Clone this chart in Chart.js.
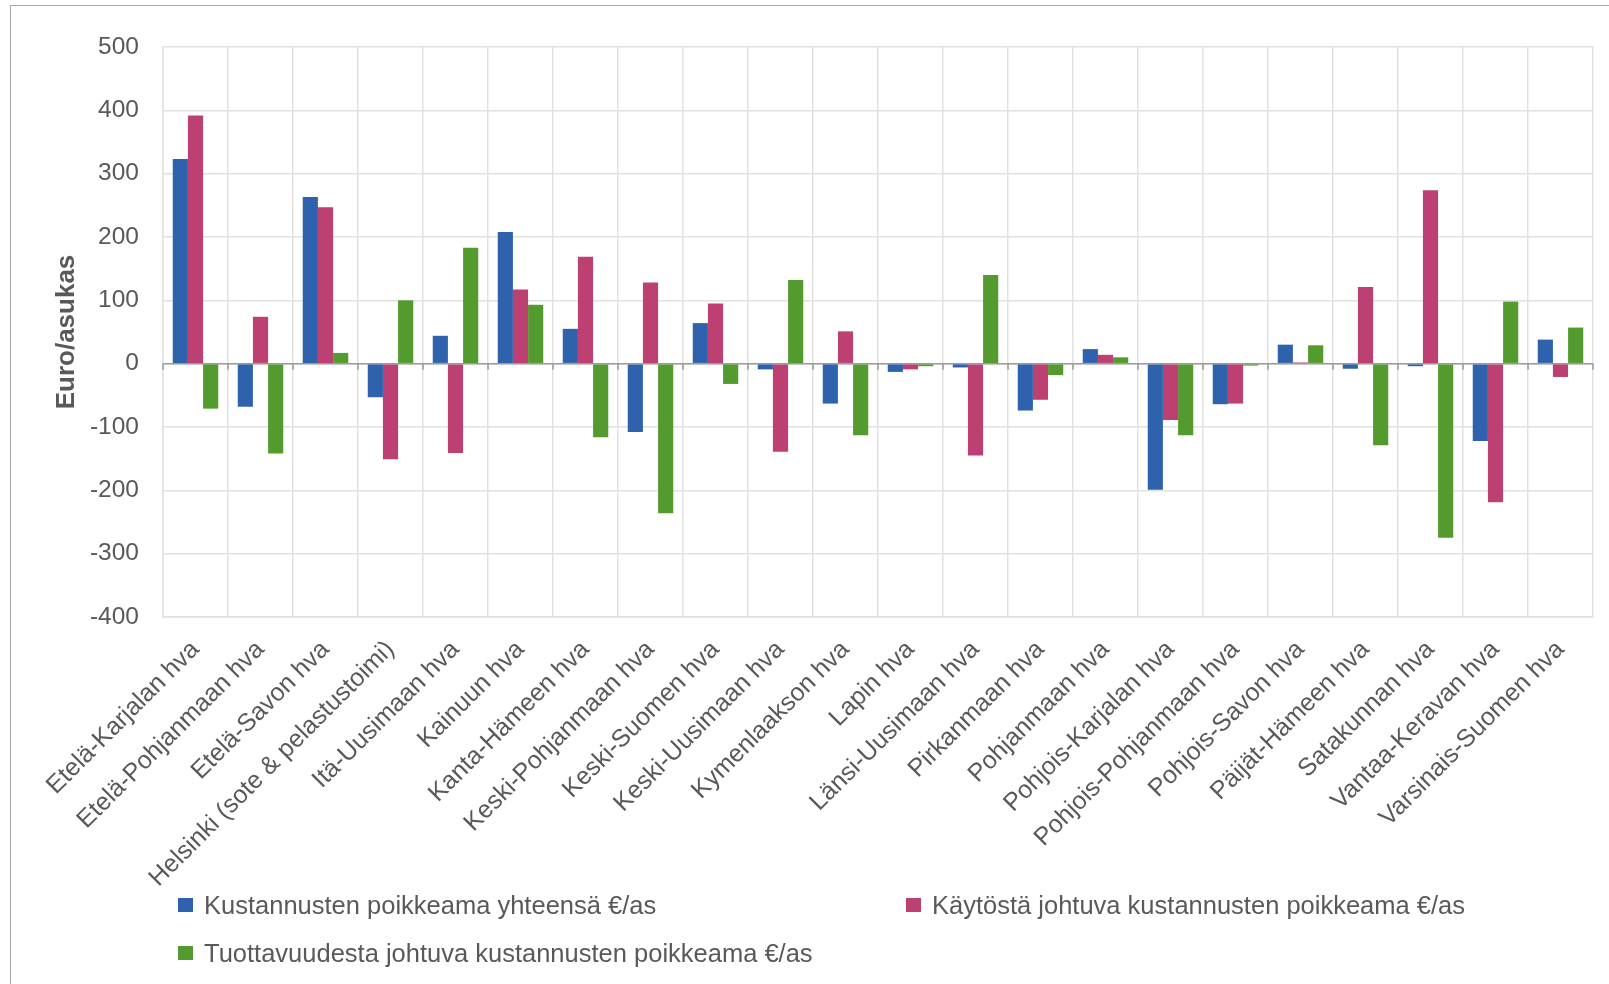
<!DOCTYPE html>
<html>
<head>
<meta charset="utf-8">
<script src="https://cdn.jsdelivr.net/npm/chart.js@4.4.1/dist/chart.umd.min.js"></script>
<style>
  html, body { margin: 0; padding: 0; background: #ffffff; overflow: hidden; }
  #wrap { position: relative; width: 1609px; height: 984px; }
  #frame { position: absolute; left: 10px; top: 5px; width: 1700px; height: 1200px;
           border-left: 1.5px solid #a9a9a9; border-top: 1.5px solid #a9a9a9; box-sizing: border-box; }
  #c { position: absolute; left: 0; top: 0; }
  .leg { position: absolute; display: flex; align-items: center; height: 30px;
         font-family: "Liberation Sans", Arial, sans-serif; font-size: 25.5px; color: #595959; white-space: nowrap; }
  .leg .box { width: 15px; height: 14px; margin-right: 11px; flex: none; }
</style>
</head>
<body>
<div id="wrap">
  <div id="frame"></div>
  <canvas id="c" width="1609" height="984"></canvas>
  <div id="legend"></div>
</div>
<script>
const categories = ["Etelä-Karjalan hva","Etelä-Pohjanmaan hva","Etelä-Savon hva","Helsinki (sote & pelastustoimi)","Itä-Uusimaan hva","Kainuun hva","Kanta-Hämeen hva","Keski-Pohjanmaan hva","Keski-Suomen hva","Keski-Uusimaan hva","Kymenlaakson hva","Lapin hva","Länsi-Uusimaan hva","Pirkanmaan hva","Pohjanmaan hva","Pohjois-Karjalan hva","Pohjois-Pohjanmaan hva","Pohjois-Savon hva","Päijät-Hämeen hva","Satakunnan hva","Vantaa-Keravan hva","Varsinais-Suomen hva"];
const seriesNames = ["Kustannusten poikkeama yhteensä €/as","Käytöstä johtuva kustannusten poikkeama €/as","Tuottavuudesta johtuva kustannusten poikkeama €/as"];
const totalDeviation = [323,-68,263,-53,44,208,55,-108,64,-9,-63,-13,-6,-74,23,-199,-64,30,-8,-4,-122,38];
const usageDeviation = [392,74,247,-151,-141,117,169,128,95,-139,51,-9,-145,-57,14,-89,-63,2,121,274,-219,-21];
const productivityDeviation = [-71,-142,17,100,183,93,-116,-236,-32,132,-113,-4,140,-18,10,-113,-3,29,-129,-275,98,57];
const yMin = -400, yMax = 500, yStep = 100;
const yTitle = "Euro/asukas";
const colors = ["#2f62ad","#bd4072","#549b2f"];

const font = '"Liberation Sans", Arial, sans-serif';
const textColor = '#595959';
const gridColor = '#e1e1e1';

const zeroTicks = {
  id: 'zeroTicks',
  beforeDatasetsDraw(chart) {
    const xs = chart.scales.x, ys = chart.scales.y;
    const y0 = ys.getPixelForValue(0);
    const n = chart.data.labels.length;
    const w = xs.width / n;
    const ctx = chart.ctx;
    ctx.save();
    ctx.strokeStyle = '#9b9b9b';
    ctx.lineWidth = 1.5;
    ctx.beginPath();
    ctx.moveTo(xs.left, y0); ctx.lineTo(xs.right, y0);
    for (let i = 0; i <= n; i++) {
      const x = xs.left + i * w;
      ctx.moveTo(x, y0); ctx.lineTo(x, y0 + 6);
    }
    ctx.stroke();
    ctx.restore();
  }
};

const data = {
  labels: categories,
  datasets: [totalDeviation, usageDeviation, productivityDeviation].map((d, i) => ({
    label: seriesNames[i], data: d, backgroundColor: colors[i],
    categoryPercentage: 0.7, barPercentage: 1.0, borderWidth: 0
  }))
};

new Chart(document.getElementById('c'), {
  type: 'bar',
  data,
  options: {
    responsive: false,
    animation: false,
    devicePixelRatio: 1,
    layout: { padding: { left: 0, right: 16, top: 47, bottom: 47 } },
    plugins: { legend: { display: false }, tooltip: { enabled: false } },
    scales: {
      x: {
        grid: { color: gridColor, lineWidth: 1.5, drawTicks: false, offset: true },
        border: { color: gridColor, width: 1.5 },
        ticks: { color: textColor, font: { family: font, size: 25 }, minRotation: 45, maxRotation: 45, padding: 18, autoSkip: false },
        afterFit(s) { s.height = 320; }
      },
      y: {
        min: yMin, max: yMax,
        grid: { color: gridColor, lineWidth: 1.5, drawTicks: false },
        border: { color: gridColor, width: 1.5 },
        ticks: { stepSize: yStep, color: textColor, font: { family: font, size: 24.5 }, padding: 24 },
        title: { display: true, text: yTitle, color: textColor, font: { family: font, size: 26, weight: 'bold' }, padding: { top: 51, bottom: 0 } },
        afterFit(s) { s.width = 163; }
      }
    }
  },
  plugins: [zeroTicks]
});

const legendPos = [[178, 905], [906, 905], [178, 953]];
const legend = document.getElementById('legend');
seriesNames.forEach((name, i) => {
  const d = document.createElement('div');
  d.className = 'leg';
  d.style.left = legendPos[i][0] + 'px';
  d.style.top = (legendPos[i][1] - 15) + 'px';
  const b = document.createElement('span'); b.className = 'box'; b.style.background = colors[i];
  const t = document.createElement('span'); t.textContent = name;
  d.appendChild(b); d.appendChild(t);
  legend.appendChild(d);
});
</script>
</body>
</html>
